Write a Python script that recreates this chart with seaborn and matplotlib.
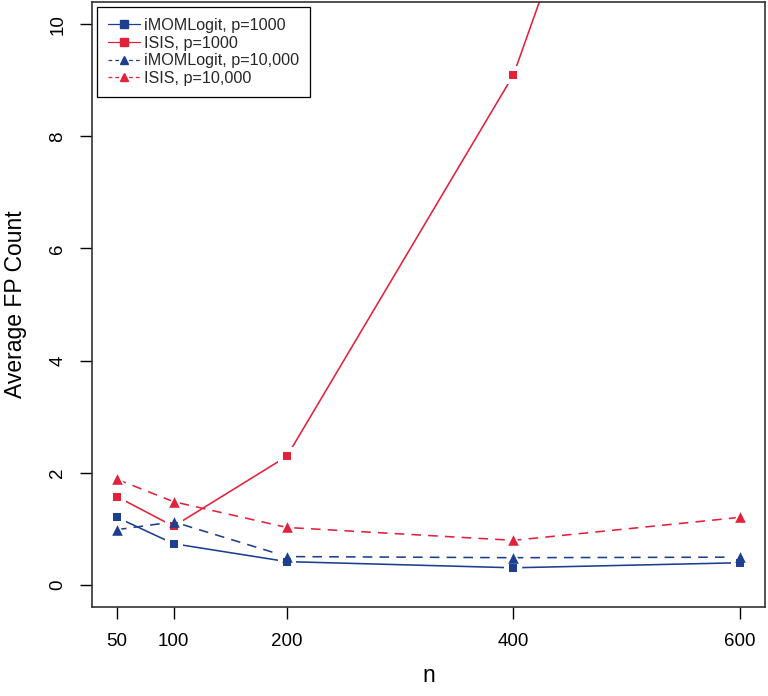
import matplotlib
matplotlib.use("Agg")
import matplotlib.pyplot as plt
import seaborn as sns
import pandas as pd
from matplotlib.lines import Line2D

n_values = [50, 100, 200, 400, 600]
imom_p1000 = [1.20, 0.73, 0.41, 0.30, 0.39]
isis_p1000 = [1.57, 1.04, 2.29, 9.1, 20.5]
imom_p10000 = [0.98, 1.12, 0.50, 0.48, 0.49]
isis_p10000 = [1.88, 1.48, 1.02, 0.79, 1.20]
x_ticks = [50, 100, 200, 400, 600]
y_ticks = [0, 2, 4, 6, 8, 10]

series_labels = ["iMOMLogit, p=1000", "ISIS, p=1000",
                 "iMOMLogit, p=10,000", "ISIS, p=10,000"]

BLUE = "#1c3f8f"
RED = "#e3213a"

sns.set_theme(style="white")
plt.rcParams['font.family'] = ['Liberation Sans', 'DejaVu Sans']

fig = plt.figure(figsize=(7.68, 6.96), dpi=100)
ax = fig.add_axes([92/768, 1-607/696, 673/768, 605/696])

DASH = (0, (6, 4.5))
# (values, colour, linestyle, marker, marker area, halo area)
styles = [
    (imom_p1000, BLUE, "-", "s", 40, 150),
    (isis_p1000, RED, "-", "s", 40, 150),
    (imom_p10000, BLUE, DASH, "^", 58, 170),
    (isis_p10000, RED, DASH, "^", 58, 170),
]

frames = [pd.DataFrame({"n": n_values, "fp": st[0]}) for st in styles]

# lines
for df, (vals, col, ls, mk, s, halo) in zip(frames, styles):
    sns.lineplot(data=df, x="n", y="fp", ax=ax, color=col, linestyle=ls,
                 linewidth=1.15, legend=False, zorder=2)
# white halos that open gaps in the lines around each point
for df, (vals, col, ls, mk, s, halo) in zip(frames, styles):
    sns.scatterplot(data=df, x="n", y="fp", ax=ax, color="white", marker=mk,
                    s=halo, linewidth=0, legend=False, zorder=3)
# markers
for df, (vals, col, ls, mk, s, halo) in zip(frames, styles):
    sns.scatterplot(data=df, x="n", y="fp", ax=ax, color=col, marker=mk,
                    s=s, linewidth=0, legend=False, zorder=4)

ax.set_xlim(28, 622)
ax.set_ylim(-0.4, 10.4)
ax.set_xticks(x_ticks)
ax.set_xticklabels([str(v) for v in x_ticks])
ax.set_yticks(y_ticks)
ax.set_yticklabels([str(v) for v in y_ticks], rotation=90, va="center")
ax.tick_params(axis="both", direction="out", length=8.5, width=1, color="black",
               labelsize=13.5, labelcolor="black", bottom=True, left=True)
ax.tick_params(axis="x", pad=10)
ax.tick_params(axis="y", pad=10)
for sp in ax.spines.values():
    sp.set_color("#333333")
    sp.set_linewidth(1.2)

ax.set_xlabel("n", fontsize=16.5, labelpad=10, color="black")
ax.set_ylabel("Average FP Count", fontsize=16.5, labelpad=16, color="black")

handles = []
for (vals, col, ls, mk, s, halo), lab in zip(styles, series_labels):
    handles.append(Line2D([], [], color=col, linestyle=ls if ls == "-" else (0, (3, 2.5)),
                          linewidth=0.9, marker=mk, markersize=6,
                          markeredgecolor=col, label=lab))
leg = ax.legend(handles=handles, loc="upper left",
                fontsize=11.6, frameon=True, fancybox=False, framealpha=1,
                edgecolor="black", borderpad=0.7, labelspacing=0.16,
                handlelength=2.0, handletextpad=0.2, borderaxespad=0.3)
leg.get_frame().set_linewidth(0.9)
leg.set_zorder(10)

fig.savefig("out.png", dpi=100)
